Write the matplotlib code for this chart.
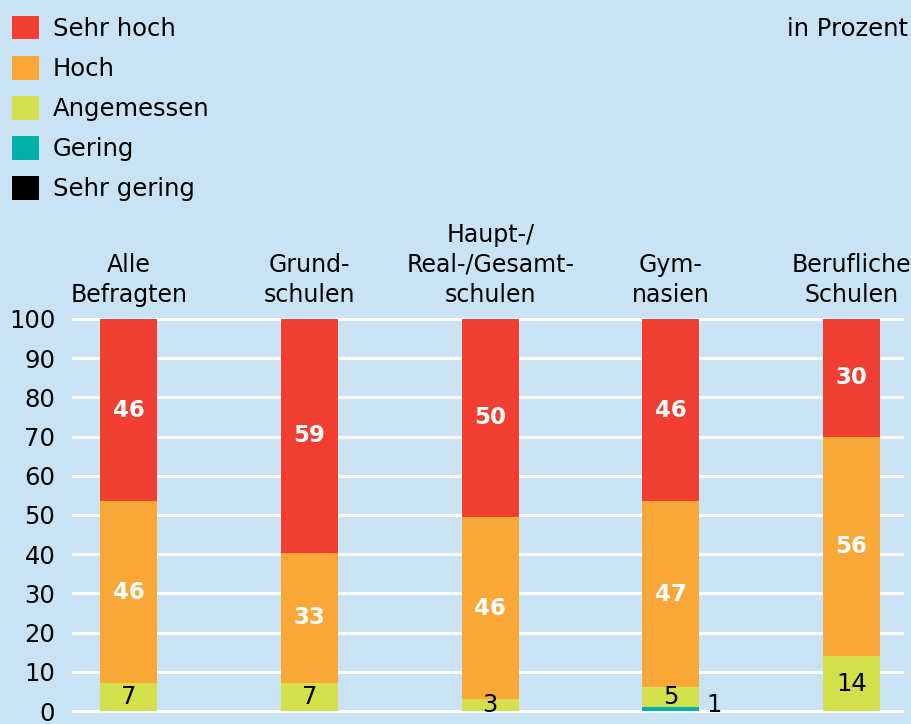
import matplotlib
matplotlib.use("Agg")
import matplotlib.pyplot as plt
from matplotlib.patches import Patch
import numpy as np

plt.rcParams['font.family'] = ['DejaVu Sans']

categories = ["Alle\nBefragten", "Grund-\nschulen", "Haupt-/\nReal-/Gesamt-\nschulen", "Gym-\nnasien", "Berufliche\nSchulen"]
series_names = ["Sehr gering", "Gering", "Angemessen", "Hoch", "Sehr hoch"]
sehr_gering = [0, 0, 0, 0, 0]
gering = [0, 0, 0, 1, 0]
angemessen = [7, 7, 3, 5, 14]
hoch = [46, 33, 46, 47, 56]
sehr_hoch = [46, 59, 50, 46, 30]
yticks = [0, 10, 20, 30, 40, 50, 60, 70, 80, 90, 100]

colors = {"Sehr hoch": "#F03F30", "Hoch": "#F9A736", "Angemessen": "#D4E04B",
          "Gering": "#00B0A9", "Sehr gering": "#000000"}
bg = "#C9E3F5"

data = np.array([sehr_gering, gering, angemessen, hoch, sehr_hoch], dtype=float)
totals = data.sum(axis=0)
scaled = data / totals * 100.0

fig = plt.figure(figsize=(9.12, 7.24), dpi=100, facecolor=bg)
ax = fig.add_axes([72 / 912, 11 / 724, (904 - 72) / 912, (713 - 317) / 724])
ax.set_facecolor(bg)
x = np.arange(len(categories))
width = 0.316

bottom = np.zeros(len(categories))
for name, vals, raw in zip(series_names, scaled, data):
    ax.bar(x, vals, width, bottom=bottom, color=colors[name], zorder=3, linewidth=0)
    for i in range(len(categories)):
        if raw[i] <= 0:
            continue
        cy = bottom[i] + vals[i] / 2
        if name in ("Sehr hoch", "Hoch"):
            ax.text(x[i], cy, f"{int(raw[i])}", ha="center", va="center",
                    color="white", fontsize=16.5, fontweight="bold", zorder=4)
        elif name == "Angemessen":
            ax.text(x[i], cy, f"{int(raw[i])}", ha="center", va="center",
                    color="black", fontsize=17.5, zorder=4)
        elif name == "Gering":
            ax.annotate(f"{int(raw[i])}", xy=(x[i] + width / 2, cy), xytext=(5, 3),
                        textcoords="offset points", ha="left", va="center",
                        color="black", fontsize=17.5, zorder=4, annotation_clip=False)
    bottom += vals

ax.set_xlim(-0.315, 4.29)
ax.set_ylim(-0.5, 100.5)
ax.set_yticks(yticks)
ax.set_yticklabels([str(t) for t in yticks], fontsize=17.5)
ax.tick_params(axis="y", length=0, pad=12)
ax.set_xticks([])
ax.yaxis.grid(True, color="white", linewidth=2.2, zorder=0)
ax.set_axisbelow(True)
for s in ax.spines.values():
    s.set_visible(False)

for i, c in enumerate(categories):
    ax.annotate(c, xy=(x[i], 100), xycoords="data", xytext=(0, 12.2),
                textcoords="offset points", ha="center", va="baseline",
                fontsize=17, linespacing=1.32, annotation_clip=False, multialignment="center")

legend_order = ["Sehr hoch", "Hoch", "Angemessen", "Gering", "Sehr gering"]
handles = [Patch(facecolor=colors[n], edgecolor="none", label=n) for n in legend_order]
fig.legend(handles=handles, loc="upper left", bbox_to_anchor=(12 / 912, 1 - 16 / 724),
           frameon=False, fontsize=17.5, handlelength=1.11, handleheight=1.11,
           handletextpad=0.56, labelspacing=0.62, borderpad=0, borderaxespad=0)

fig.text(908 / 912, 1 - 29 / 724, "in Prozent", ha="right", va="center", fontsize=17.5)

fig.savefig("out.png", dpi=100, facecolor=bg)
